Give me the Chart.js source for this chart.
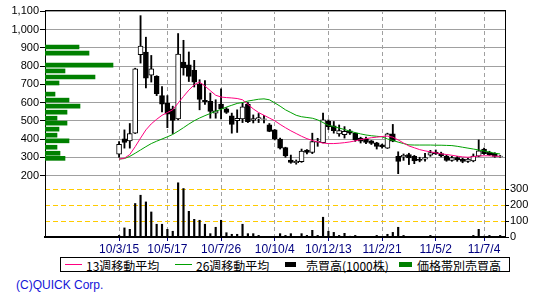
<!DOCTYPE html>
<html lang="ja">
<head>
<meta charset="UTF-8">
<title>株価チャート（週足）</title>
<script src="https://cdn.jsdelivr.net/npm/chart.js"></script>
<style>
    body { margin: 0; background: #fff; }
    #wrap { position: relative; width: 550px; height: 300px; overflow: hidden; }
    #chart { position: absolute; left: 0; top: 0; }
    .lg { position: absolute; }
    .txt { position: absolute; top: 257px; line-height: 15px; font: 12px "Noto Sans CJK JP", sans-serif; color: #000; white-space: nowrap; }
    #box { left: 60px; top: 257px; width: 450px; height: 15px; border: 1px solid #000; box-sizing: border-box; }
    #copy { position: absolute; left: 16px; top: 278px; font: 12px "Liberation Sans", Arial, sans-serif; color: #1414d8; }
</style>
</head>
<body>
<div id="wrap">
    <canvas id="chart" width="550" height="255"></canvas>

    <div class="lg" id="box"></div>
    <div class="lg" style="left:65px;top:264px;width:17px;height:1px;background:#ff0080"></div>
    <div class="txt" style="left:86px">13週移動平均</div>
    <div class="lg" style="left:175px;top:264px;width:17px;height:1px;background:#00a000"></div>
    <div class="txt" style="left:196px">26週移動平均</div>
    <div class="lg" style="left:285px;top:262px;width:11px;height:5px;background:#000"></div>
    <div class="txt" style="left:306px">売買高(1000株)</div>
    <div class="lg" style="left:399px;top:262px;width:13px;height:5px;background:#008000"></div>
    <div class="txt" style="left:417px">価格帯別売買高</div>

    <div id="copy">(C)QUICK Corp.</div>
</div>

<script>
    // weekly bars, index 0 = 10/3/15
    const open  = [317,401,390,432,862,877,750,743,638,597,565,510,822,807,776,700,612,606,542,592,
                   566,527,501,510,590,502,510,508,478,450,400,353,285,270,276,340,326,383,380,498,
                   472,428,424,445,432,405,400,390,379,368,350,428,305,303,315,305,288,290,311,328,
                   320,307,283,298,290,277,280,306,345,328,322,305];
    const high  = [386,450,485,788,1076,958,858,747,688,638,580,978,941,877,831,725,720,652,615,675,
                   572,542,560,597,600,532,540,530,485,452,405,355,312,285,345,342,432,404,542,505,
                   496,477,468,452,434,410,410,392,382,372,432,480,330,318,322,310,300,322,338,340,
                   328,312,305,305,295,295,318,395,350,333,325,310];
    const low   = [300,350,350,430,816,680,712,638,548,462,430,505,750,715,685,560,590,514,514,510,
                   540,432,436,490,490,488,490,488,440,395,345,300,267,262,272,318,320,360,378,452,
                   432,415,405,425,387,378,375,370,345,350,348,385,210,283,260,265,275,278,305,315,
                   302,278,278,278,270,272,275,303,315,310,300,300];
    const close = [371,382,430,785,909,734,785,648,591,536,502,866,789,743,712,617,605,551,554,566,
                   546,480,513,576,495,512,517,510,442,400,350,307,272,278,334,326,386,387,505,468,
                   446,446,442,432,396,388,382,376,360,356,428,388,277,310,296,280,282,298,325,318,
                   308,282,298,285,277,290,306,335,320,313,305,306];
    const volume = [10,57,48,210,262,220,157,80,80,48,36,340,304,161,111,105,80,21,61,105,
                    27,17,17,80,21,21,10,4,4,3,21,10,21,4,21,10,42,10,124,36,
                    29,10,23,5,10,4,4,4,10,4,17,29,61,10,4,3,3,3,10,3,
                    3,3,3,3,3,3,10,48,5,10,4,10];
    const ma13 = [290,295,315,358,405,450,483,508,530,545,560,597,633,668,697,712,690,665,640,630,
                  627,625,622,615,590,565,545,530,515,500,480,462,445,430,415,402,392,384,378,375,
                  375,377,380,384,390,397,402,407,410,414,416,410,395,378,362,352,342,335,330,324,
                  319,315,311,306,302,300,303,307,308,308,306,305];
    const ma26 = [290,293,305,322,340,358,375,388,400,412,425,443,462,482,500,515,528,540,552,563,
                  575,585,595,600,608,613,618,620,615,598,580,560,545,530,522,518,514,505,490,475,
                  468,460,452,443,435,428,422,418,415,412,400,392,383,375,368,367,367,367,367,366,
                  366,365,364,360,355,350,345,340,334,328,322,318];

    // price band volume (left green bars)
    const bandPrice  = [904,871,805,773,740,707,646,613,580,547,514,487,454,421,390,355,322,294];
    const bandVolume = [34,44,68,20,50,14,10,24,35,22,12,22,14,12,24,12,15,20];

    const tickWeeks  = [0, 9, 19, 29, 39, 49, 59, 68];
    const tickLabels = ['10/3/15', '10/5/17', '10/7/26', '10/10/4', '10/12/13', '11/2/21', '11/5/2', '11/7/4'];
    const priceTicks = [200, 300, 400, 500, 600, 700, 800, 900, 1000, 1100];
    const volumeTicks = [0, 100, 200, 300];

    Chart.defaults.font.family = "'Liberation Sans', Arial, sans-serif";

    // top line of the frame
    const frame = {
        id: 'frame',
        afterDraw(chart) {
            const { ctx, chartArea: a } = chart;
            ctx.save();
            ctx.strokeStyle = '#000';
            ctx.lineWidth = 1;
            ctx.beginPath();
            ctx.moveTo(a.left, a.top + 0.5);
            ctx.lineTo(a.right, a.top + 0.5);
            ctx.stroke();
            ctx.restore();
        }
    };

    new Chart(document.getElementById('chart'), {
        type: 'bar',
        data: {
            datasets: [
                {
                    type: 'line', label: '13週移動平均',
                    data: ma13.map((v, i) => ({ x: i, y: v })),
                    borderColor: '#ff0080', borderWidth: 1, pointRadius: 0, tension: 0,
                    xAxisID: 'x', yAxisID: 'y', order: 0
                },
                {
                    type: 'line', label: '26週移動平均',
                    data: ma26.map((v, i) => ({ x: i, y: v })),
                    borderColor: '#00a000', borderWidth: 1, pointRadius: 0, tension: 0,
                    xAxisID: 'x', yAxisID: 'y', order: 1
                },
                {
                    label: 'body',
                    data: open.map((o, i) => ({ x: i, y: [o, close[i]] })),
                    backgroundColor: open.map((o, i) => close[i] >= o ? '#ffffff' : '#000000'),
                    borderColor: '#000', borderWidth: 1, borderSkipped: false,
                    barThickness: 5, grouped: false,
                    xAxisID: 'x', yAxisID: 'y', order: 2
                },
                {
                    label: 'wick',
                    data: low.map((l, i) => ({ x: i, y: [l, high[i]] })),
                    backgroundColor: '#000', borderWidth: 0,
                    barThickness: 1.2, grouped: false,
                    xAxisID: 'x', yAxisID: 'y', order: 3
                },
                {
                    label: '売買高(1000株)',
                    data: volume.map((v, i) => ({ x: i, y: v })),
                    backgroundColor: '#000', borderWidth: 0,
                    barThickness: 1.5, grouped: false,
                    xAxisID: 'x', yAxisID: 'yv', order: 4
                },
                {
                    label: '価格帯別売買高', indexAxis: 'y',
                    data: bandVolume.map((v, i) => ({ x: v, y: bandPrice[i] })),
                    backgroundColor: '#008000', borderWidth: 0,
                    barThickness: 4, grouped: false,
                    xAxisID: 'xb', yAxisID: 'y', order: 5
                }
            ]
        },
        options: {
            responsive: false,
            animation: false,
            devicePixelRatio: 1,
            layout: { padding: { top: 10, left: 0, right: 0, bottom: 0 } },
            plugins: {
                legend: { display: false },
                tooltip: { enabled: false }
            },
            scales: {
                x: {
                    type: 'linear', min: -13.8, max: 71.9, offset: false,
                    afterBuildTicks: s => { s.ticks = tickWeeks.map(v => ({ value: v })); },
                    afterFit: s => { s.height = 18; },
                    ticks: {
                        autoSkip: false, maxRotation: 0, padding: 1,
                        color: '#000080', font: { size: 12 },
                        callback: (v, i) => tickLabels[i]
                    },
                    grid: { color: '#a0a0a0', tickColor: '#000080', tickLength: 4, offset: false },
                    border: { color: '#000', width: 2, dash: [4, 3] }
                },
                xb: { type: 'linear', display: false, min: 0, max: 460, offset: false, grid: { offset: false } },
                y: {
                    type: 'linear', position: 'left', min: -137, max: 1107, offset: false,
                    afterBuildTicks: s => { s.ticks = priceTicks.map(v => ({ value: v })); },
                    afterFit: s => { s.width = 45; },
                    ticks: {
                        padding: 1, color: '#000', font: { size: 11 },
                        callback: v => v.toLocaleString('en-US')
                    },
                    grid: { color: '#a0a0a0', tickColor: '#000', tickLength: 5, offset: false },
                    border: { color: '#000' }
                },
                yv: {
                    type: 'linear', position: 'right', min: 0, max: 1424, offset: false,
                    afterBuildTicks: s => { s.ticks = volumeTicks.map(v => ({ value: v })); },
                    afterFit: s => { s.width = 45; },
                    ticks: { padding: 1, color: '#000', font: { size: 11 } },
                    grid: { color: '#ffcc00', tickColor: '#000', tickLength: 4 },
                    border: { color: '#000', dash: [5, 3] }
                }
            }
        },
        plugins: [frame]
    });
</script>
</body>
</html>
